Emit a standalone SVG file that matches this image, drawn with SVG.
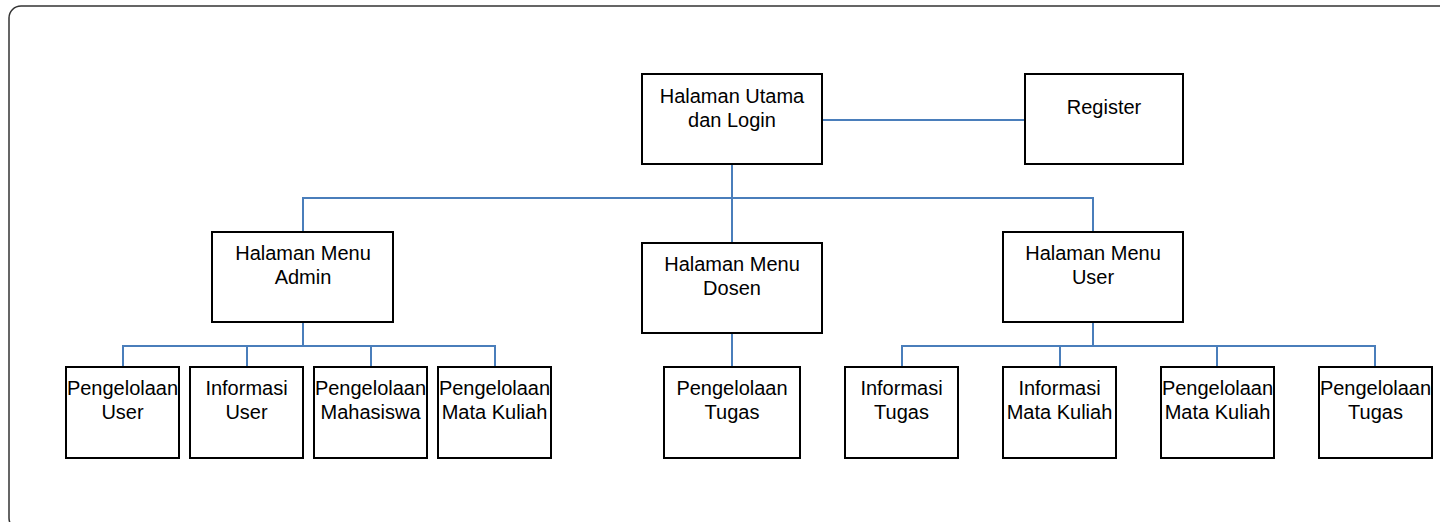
<svg xmlns="http://www.w3.org/2000/svg" width="1440" height="522" viewBox="0 0 1440 522">
<style>
.box{fill:#fff;stroke:#000;stroke-width:2}
.t{font-family:"Liberation Sans",Arial,sans-serif;font-size:20px;text-anchor:middle;fill:#000}
.c{fill:none;stroke:#4a7ebb;stroke-width:2}
</style>
<rect x="0" y="0" width="1440" height="522" fill="#fff"/>
<rect x="9" y="6" width="1460" height="524" rx="12" fill="none" stroke="#333" stroke-width="1.5"/>
<g id="connectors">
<path class="c" d="M822 120H1025"/>
<path class="c" d="M732 164V243"/>
<path class="c" d="M303 232V198H1093V232"/>
<path class="c" d="M303 322V346"/>
<path class="c" d="M123 367V346H495V367M247 346V367M371 346V367"/>
<path class="c" d="M732 333V367"/>
<path class="c" d="M1093 322V346"/>
<path class="c" d="M902 367V346H1375V367M1060 346V367M1217 346V367"/>
</g>
<g id="n-main"><rect class="box" x="642" y="74" width="180" height="90"/><text class="t" x="732" y="103">Halaman Utama</text><text class="t" x="732" y="127">dan Login</text></g>
<g id="n-register"><rect class="box" x="1025" y="74" width="158" height="90"/><text class="t" x="1104" y="114">Register</text></g>
<g id="n-admin"><rect class="box" x="212" y="232" width="181" height="90"/><text class="t" x="303" y="260">Halaman Menu</text><text class="t" x="303" y="284">Admin</text></g>
<g id="n-dosen"><rect class="box" x="642" y="243" width="180" height="90"/><text class="t" x="732" y="271">Halaman Menu</text><text class="t" x="732" y="295">Dosen</text></g>
<g id="n-user"><rect class="box" x="1003" y="232" width="180" height="90"/><text class="t" x="1093" y="260">Halaman Menu</text><text class="t" x="1093" y="284">User</text></g>
<g id="n-a1"><rect class="box" x="66" y="367" width="113" height="91"/><text class="t" x="122.5" y="395">Pengelolaan</text><text class="t" x="122.5" y="419">User</text></g>
<g id="n-a2"><rect class="box" x="190" y="367" width="113" height="91"/><text class="t" x="246.5" y="395">Informasi</text><text class="t" x="246.5" y="419">User</text></g>
<g id="n-a3"><rect class="box" x="314" y="367" width="113" height="91"/><text class="t" x="370.5" y="395">Pengelolaan</text><text class="t" x="370.5" y="419">Mahasiswa</text></g>
<g id="n-a4"><rect class="box" x="438" y="367" width="113" height="91"/><text class="t" x="494.5" y="395">Pengelolaan</text><text class="t" x="494.5" y="419">Mata Kuliah</text></g>
<g id="n-d1"><rect class="box" x="664" y="367" width="136" height="91"/><text class="t" x="732" y="395">Pengelolaan</text><text class="t" x="732" y="419">Tugas</text></g>
<g id="n-u1"><rect class="box" x="845" y="367" width="113" height="91"/><text class="t" x="901.5" y="395">Informasi</text><text class="t" x="901.5" y="419">Tugas</text></g>
<g id="n-u2"><rect class="box" x="1003" y="367" width="113" height="91"/><text class="t" x="1059.5" y="395">Informasi</text><text class="t" x="1059.5" y="419">Mata Kuliah</text></g>
<g id="n-u3"><rect class="box" x="1161" y="367" width="113" height="91"/><text class="t" x="1217.5" y="395">Pengelolaan</text><text class="t" x="1217.5" y="419">Mata Kuliah</text></g>
<g id="n-u4"><rect class="box" x="1319" y="367" width="113" height="91"/><text class="t" x="1375.5" y="395">Pengelolaan</text><text class="t" x="1375.5" y="419">Tugas</text></g>
</svg>
